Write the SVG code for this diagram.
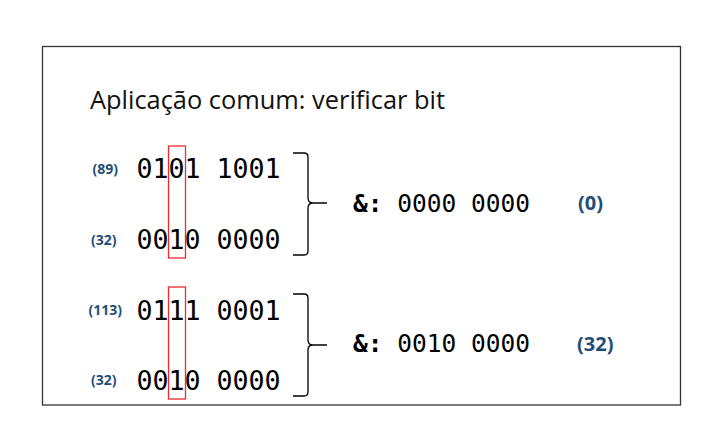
<svg xmlns="http://www.w3.org/2000/svg" width="721" height="448" viewBox="0 0 721 448">
<style>
.bin{font-family:"DejaVu Sans Mono",monospace;font-size:26.6px;fill:#000}
.res{font-family:"DejaVu Sans Mono",monospace;font-size:24.5px;fill:#000}
.lbl{font-family:"Open Sans","Noto Sans",sans-serif;font-weight:bold;font-size:14px;fill:#1f4e79}
.val{font-family:"Open Sans","Noto Sans",sans-serif;font-weight:bold;font-size:20px;fill:#1f4e79}
.hl{fill:none;stroke:#ee2a2a;stroke-width:1.3}
.brace{fill:none;stroke:#000;stroke-width:1.3}
</style>
<rect x="0" y="0" width="721" height="448" fill="#fff"/>
<rect x="42.5" y="46.5" width="638" height="358.5" fill="#fff" stroke="#333" stroke-width="1.3"/>
<g id="title">
<text x="90" y="108.5" font-family="'Open Sans','Noto Sans',sans-serif" font-size="25" fill="#111" textLength="355" lengthAdjust="spacingAndGlyphs">Aplicação comum: verificar bit</text>
</g>
<g id="group1">
<text class="lbl" x="92.5" y="174">(89)</text>
<text class="bin" x="136.5" y="177.5">0101 1001</text>
<text class="lbl" x="91" y="244.5">(32)</text>
<text class="bin" x="136.5" y="249">0010 0000</text>
<rect class="hl" x="168.5" y="146" width="17" height="112"/>
<text class="res" x="353" y="211.5"><tspan font-weight="bold">&amp;:</tspan> 0000 0000</text>
<text class="val" x="578" y="209.5">(0)</text>
</g>
<g id="group2">
<text class="lbl" x="88.5" y="315">(113)</text>
<text class="bin" x="136.5" y="320">0111 0001</text>
<text class="lbl" x="91" y="385">(32)</text>
<text class="bin" x="136.5" y="390">0010 0000</text>
<rect class="hl" x="168.5" y="287" width="17" height="112"/>
<text class="res" x="353" y="352"><tspan font-weight="bold">&amp;:</tspan> 0010 0000</text>
<text class="val" x="577" y="350.5">(32)</text>
</g>
<g id="connectors">
<path class="brace" d="M293,153 H304 Q308,153 308,157 V198 Q308,203 313,203 H327 M313,203 Q308,203 308,208 V251 Q308,255 304,255 H293"/>
<path class="brace" d="M293,294 H304 Q308,294 308,298 V340 Q308,345 313,345 H327 M313,345 Q308,345 308,350 V392 Q308,396 304,396 H293"/>
</g>
</svg>
